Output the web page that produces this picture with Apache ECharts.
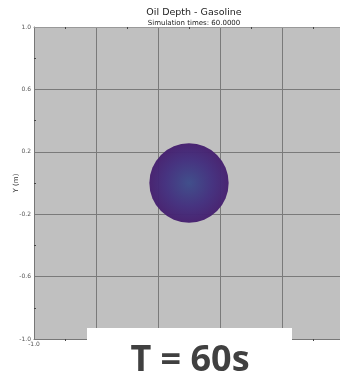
<!DOCTYPE html>
<html><head><meta charset="utf-8">
<script src="https://cdn.jsdelivr.net/npm/echarts@6/dist/echarts.min.js"></script>
<style>html,body{margin:0;padding:0;background:#fff;}#c{width:340px;height:379px;}</style>
</head><body><div id="c"></div>
<script>
var titleText = 'Oil Depth - Gasoline';
var subText = 'Simulation times: 60.0000';
var yAxisName = 'Y (m)';
var axisMin = -1.0, axisMax = 1.0, axisStep = 0.4;
var spillCenter = [0.0, 0.0];
var spillRadius = [0.255];
var overlayLabel = 'T = 60s';

var chart = echarts.init(document.getElementById('c'), null, {renderer: 'canvas'});
var lblFmt = function (v) { return v.toFixed(1); };
var labelStyle = {fontSize: 6, color: '#555', fontFamily: 'DejaVu Sans', formatter: lblFmt};
chart.setOption({
  animation: false,
  title: {
    text: titleText, subtext: subText, left: 189, top: 3, textAlign: 'center', itemGap: 2,
    textStyle: {fontSize: 9.5, fontWeight: 'normal', color: '#222', fontFamily: 'DejaVu Sans'},
    subtextStyle: {fontSize: 7, color: '#222', fontFamily: 'DejaVu Sans'}
  },
  grid: {left: 34, top: 27, width: 310, height: 312, show: true, backgroundColor: '#c0c0c0', borderWidth: 0,
    containLabel: false, outerBoundsMode: 'none'},
  xAxis: [{
    type: 'value', min: axisMin, max: axisMax, interval: axisStep, position: 'bottom',
    axisLine: {show: true, onZero: false, lineStyle: {color: '#777', width: 1}},
    axisTick: {show: false},
    minorTick: {show: true, splitNumber: 2, length: 2, lineStyle: {color: '#444'}},
    axisLabel: Object.assign({margin: 2, showMaxLabel: false}, labelStyle),
    splitLine: {show: true, lineStyle: {color: '#7a7a7a', width: 1}}
  }, {
    type: 'value', min: axisMin, max: axisMax, interval: axisStep, position: 'top',
    axisLine: {show: true, onZero: false, lineStyle: {color: '#999', width: 1}},
    axisTick: {show: false},
    minorTick: {show: true, splitNumber: 2, length: -2, lineStyle: {color: '#444'}},
    axisLabel: {show: false}, splitLine: {show: false}
  }],
  yAxis: [{
    type: 'value', min: axisMin, max: axisMax, interval: axisStep, position: 'left',
    name: yAxisName, nameLocation: 'middle', nameGap: 14, nameMoveOverlap: false,
    nameTextStyle: {fontSize: 7, color: '#333', fontFamily: 'DejaVu Sans'},
    axisLine: {show: true, onZero: false, lineStyle: {color: '#777', width: 1}},
    axisTick: {show: false},
    minorTick: {show: true, splitNumber: 2, length: -2, lineStyle: {color: '#444'}},
    axisLabel: Object.assign({margin: 3}, labelStyle),
    splitLine: {show: true, lineStyle: {color: '#7a7a7a', width: 1}}
  }],
  series: [{
    type: 'custom', coordinateSystem: 'cartesian2d', z: 1,
    data: [[spillCenter[0], spillCenter[1], spillRadius[0]]],
    renderItem: function (params, api) {
      var c = api.coord([api.value(0), api.value(1)]);
      var s = api.size([api.value(2), api.value(2)]);
      var r = (s[0] + s[1]) / 2;
      return {
        type: 'circle', shape: {cx: c[0], cy: c[1], r: r},
        style: {fill: new echarts.graphic.RadialGradient(0.5, 0.5, 0.5, [
          {offset: 0, color: '#3d4c8a'},
          {offset: 0.6, color: '#432f7e'},
          {offset: 1, color: '#46206f'}
        ]), opacity: 0.97}
      };
    }
  }],
  graphic: [{
    type: 'rect', shape: {x: 87, y: 328, width: 205, height: 51}, style: {fill: '#fff'}, z: 100
  }, {
    type: 'text', x: 190, y: 361, z: 101,
    style: {text: overlayLabel, fill: '#404040', font: 'bold 36px "Open Sans"', align: 'center', verticalAlign: 'middle'}
  }]
});
</script></body></html>
